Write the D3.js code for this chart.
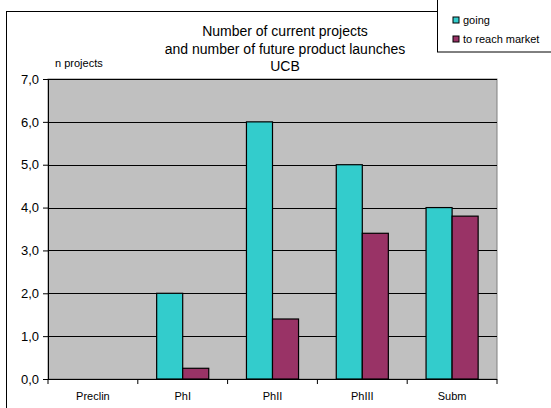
<!DOCTYPE html>
<html><head><meta charset="utf-8">
<script src="https://cdn.jsdelivr.net/npm/d3@7"></script>
<style>body{margin:0;background:#fff}svg{display:block}text{font-family:"Liberation Sans",Arial,sans-serif}</style>
</head><body>
<script>
const categories = ["Preclin","PhI","PhII","PhIII","Subm"];
const going = [0, 2.0, 6.0, 5.0, 4.0];
const toReachMarket = [0, 0.25, 1.4, 3.4, 3.8];
const seriesNames = ["going","to reach market"];
const yTicks = [0,1,2,3,4,5,6,7];
const titleLines = ["Number of current projects","and number of future product launches","UCB"];
const colors = ["#33cccc","#993366"];

(function(){
const W = 551, H = 408;
const svg = d3.select("body").append("svg").attr("width",W).attr("height",H);

// outer frame
svg.append("rect").attr("x",6.5).attr("y",11.5).attr("width",560).attr("height",420)
  .attr("fill","#fff").attr("stroke","#000").attr("stroke-width",1);

const pL=48, pR=497, pT=79, pB=379;
const x = d3.scaleBand().domain(categories).range([pL,pR]);
const y = d3.scaleLinear().domain([0,7]).range([pB,pT]);

svg.append("rect").attr("x",pL).attr("y",pT).attr("width",pR-pL).attr("height",pB-pT)
  .attr("fill","#c0c0c0").attr("stroke","#808080");

svg.append("g").selectAll("line").data(yTicks.filter(d=>d>0)).join("line")
  .attr("x1",pL).attr("x2",pR).attr("y1",d=>Math.round(y(d))+0.5).attr("y2",d=>Math.round(y(d))+0.5)
  .attr("stroke","#000").attr("stroke-width",1);

const bw = x.bandwidth()*0.29;
const data = categories.map((c,i)=>[{c,s:0,v:going[i]},{c,s:1,v:toReachMarket[i]}]).flat();
svg.append("g").selectAll("rect").data(data.filter(d=>d.v>0)).join("rect")
  .attr("x",d=>x(d.c)+x.bandwidth()/2 + (d.s-1)*bw)
  .attr("y",d=>y(d.v)).attr("width",bw).attr("height",d=>y(0)-y(d.v))
  .attr("fill",d=>colors[d.s]).attr("stroke","#000").attr("stroke-width",1.2);

// y axis
const yAxis = d3.axisLeft(y).tickValues(yTicks).tickFormat(d=>d3.format(".1f")(d).replace(".",",")).tickSize(5).tickPadding(4);
const gy = svg.append("g").attr("transform",`translate(${pL},0)`).call(yAxis);
gy.select(".domain").attr("stroke","#000");
gy.selectAll("text").attr("font-size",13).attr("fill","#000").attr("font-family","Liberation Sans, Arial, sans-serif");

// x axis
const gx = svg.append("g").attr("transform",`translate(0,${pB})`);
gx.append("line").attr("x1",pL).attr("x2",pR).attr("y1",0.5).attr("y2",0.5).attr("stroke","#000");
const bounds = categories.map(c=>x(c)).concat([pR]);
gx.selectAll("line.t").data(bounds).join("line").attr("class","t")
  .attr("x1",d=>d).attr("x2",d=>d).attr("y1",0).attr("y2",5).attr("stroke","#000");
gx.selectAll("text").data(categories).join("text")
  .attr("x",d=>x(d)+x.bandwidth()/2).attr("y",21).attr("text-anchor","middle")
  .attr("font-size",11).attr("fill","#000").text(d=>d);

// title
svg.append("g").selectAll("text").data(titleLines).join("text")
  .attr("x",285).attr("y",(d,i)=>36+i*17.5).attr("text-anchor","middle")
  .attr("font-size",14).attr("fill","#000").text(d=>d);

svg.append("text").attr("x",55).attr("y",67).attr("font-size",11).attr("fill","#000").text("n projects");

// legend
const lg = svg.append("g");
lg.append("rect").attr("x",437.5).attr("y",-1).attr("width",120).attr("height",53)
  .attr("fill","#fff").attr("stroke","#000");
seriesNames.forEach((n,i)=>{
  lg.append("rect").attr("x",453).attr("y",20+i*19-3).attr("width",6).attr("height",6)
    .attr("fill",colors[i]).attr("stroke","#000");
  lg.append("text").attr("x",463).attr("y",20+i*19+4).attr("font-size",11).attr("fill","#000").text(n);
});
})();
</script>
</body></html>
